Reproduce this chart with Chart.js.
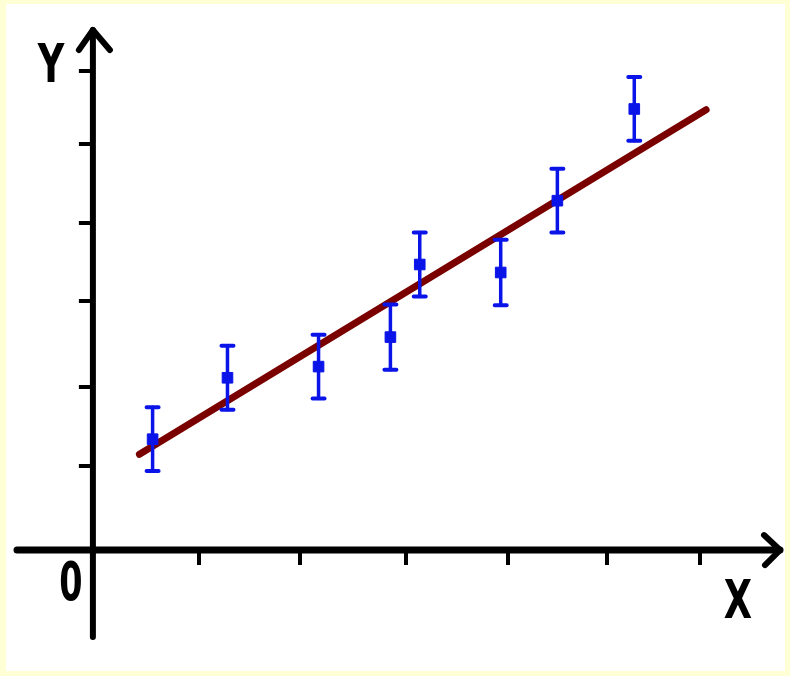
<!DOCTYPE html>
<html>
<head>
<meta charset="utf-8">
<script src="https://cdn.jsdelivr.net/npm/chart.js@4.4.0/dist/chart.umd.min.js"></script>
<style>
  html, body { margin: 0; padding: 0; background: #ffffd6; }
  canvas { display: block; }
</style>
</head>
<body>
<canvas id="c" width="790" height="676"></canvas>
<script>
// measured values (data units: 1 = one tick step)
var xValues = [0.59, 1.33, 2.23, 2.94, 3.23, 4.03, 4.59, 5.35];
var yValues = [1.39, 2.16, 2.30, 2.67, 3.58, 3.48, 4.38, 5.53];
var yErr    = [0.40, 0.40, 0.40, 0.41, 0.40, 0.41, 0.40, 0.40];
// straight fit line end points
var fitX = [0.46, 6.06];
var fitY = [1.20, 5.52];
// tick marks along each axis
var xTicks = [1.05, 2.05, 3.09, 4.10, 5.08, 6.0];
var yTicks = [1.05, 2.05, 3.12, 4.10, 5.09, 6.0];

var pts = xValues.map(function (x, i) { return { x: x, y: yValues[i] }; });
var fit = fitX.map(function (x, i) { return { x: x, y: fitY[i] }; });

// white sheet on the pale yellow page
var sheet = {
  id: 'sheet',
  beforeDraw: function (chart) {
    var ctx = chart.ctx;
    ctx.save();
    ctx.fillStyle = '#ffffff';
    ctx.fillRect(6, 4, 779, 667);
    ctx.restore();
  }
};

// axes with arrows, ticks and labels, placed from the scales
var axes = {
  id: 'axes',
  beforeDatasetsDraw: function (chart) {
    var ctx = chart.ctx, xs = chart.scales.x, ys = chart.scales.y, a = chart.chartArea;
    var x0 = xs.getPixelForValue(0), y0 = ys.getPixelForValue(0);
    ctx.save();
    ctx.strokeStyle = '#000';
    ctx.lineCap = 'round';
    ctx.lineJoin = 'round';
    ctx.lineWidth = 7;
    ctx.beginPath();
    ctx.moveTo(a.left, y0); ctx.lineTo(a.right, y0);
    ctx.stroke();
    ctx.lineWidth = 6;
    ctx.beginPath();
    ctx.moveTo(x0, a.bottom); ctx.lineTo(x0, a.top);
    ctx.stroke();
    // arrow heads
    ctx.beginPath();
    ctx.moveTo(x0 - 14, a.top + 20); ctx.lineTo(x0, a.top); ctx.lineTo(x0 + 17, a.top + 20);
    ctx.moveTo(a.right - 16, y0 - 15); ctx.lineTo(a.right, y0); ctx.lineTo(a.right - 15, y0 + 15);
    ctx.stroke();
    // ticks
    ctx.lineCap = 'butt';
    ctx.lineWidth = 4;
    ctx.beginPath();
    xTicks.forEach(function (t) {
      var p = Math.round(xs.getPixelForValue(t));
      ctx.moveTo(p, y0); ctx.lineTo(p, y0 + 15);
    });
    yTicks.forEach(function (t) {
      var p = Math.round(ys.getPixelForValue(t));
      ctx.moveTo(x0, p); ctx.lineTo(x0 - 14, p);
    });
    ctx.stroke();
    // labels
    ctx.fillStyle = '#000';
    ctx.font = 'bold 54px "DejaVu Sans"';
    ctx.textAlign = 'center';
    ctx.textBaseline = 'alphabetic';
    function label(txt, cx, base, sx) {
      ctx.save();
      ctx.translate(cx, base);
      ctx.scale(sx, 1);
      ctx.fillText(txt, 0, 0);
      ctx.restore();
    }
    label('Y', 51, 82, 0.68);
    label('0', 71, 600, 0.62);
    label('X', 738, 618, 0.68);
    ctx.restore();
  }
};

// vertical error bars with caps, drawn just before the markers
var errorBars = {
  id: 'errorBars',
  beforeDatasetDraw: function (chart, args) {
    if (args.index !== 0) return;
    var ctx = chart.ctx, xs = chart.scales.x, ys = chart.scales.y;
    ctx.save();
    ctx.strokeStyle = '#0a14e8';
    ctx.lineCap = 'round';
    xValues.forEach(function (x, i) {
      var px = xs.getPixelForValue(x);
      var top = ys.getPixelForValue(yValues[i] + yErr[i]);
      var bot = ys.getPixelForValue(yValues[i] - yErr[i]);
      ctx.lineWidth = 3.5;
      ctx.beginPath();
      ctx.moveTo(px, top); ctx.lineTo(px, bot);
      ctx.stroke();
      ctx.lineWidth = 4;
      ctx.beginPath();
      ctx.moveTo(px - 6, top); ctx.lineTo(px + 6, top);
      ctx.moveTo(px - 6, bot); ctx.lineTo(px + 6, bot);
      ctx.stroke();
    });
    ctx.restore();
  }
};

new Chart(document.getElementById('c'), {
  type: 'scatter',
  data: {
    datasets: [
      {
        label: 'measured',
        data: pts,
        pointStyle: 'rect',
        pointRadius: 7.5,
        pointBackgroundColor: '#0a14e8',
        pointBorderColor: '#0a14e8',
        pointBorderWidth: 1,
        showLine: false
      },
      {
        label: 'fit',
        data: fit,
        showLine: true,
        borderColor: '#7a0000',
        borderWidth: 7,
        borderCapStyle: 'round',
        pointRadius: 0
      }
    ]
  },
  options: {
    responsive: false,
    devicePixelRatio: 1,
    animation: false,
    layout: { padding: { left: 17, right: 10, top: 30, bottom: 39 } },
    plugins: { legend: { display: false }, tooltip: { enabled: false } },
    scales: {
      x: { type: 'linear', min: -0.75, max: 6.79, display: false },
      y: { type: 'linear', min: -1.09, max: 6.52, display: false }
    }
  },
  plugins: [sheet, axes, errorBars]
});
</script>
</body>
</html>
